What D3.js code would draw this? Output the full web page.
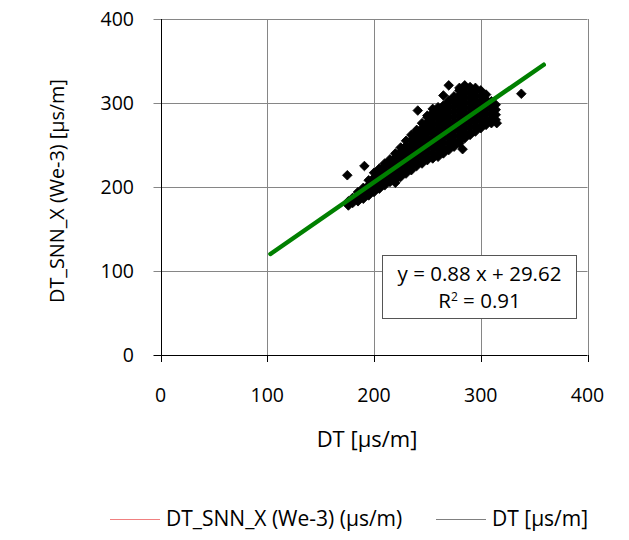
<!DOCTYPE html>
<html>
<head>
<meta charset="utf-8">
<script src="https://cdn.jsdelivr.net/npm/d3@7"></script>
<style>
  html, body { margin: 0; padding: 0; background: #fff; }
  svg { display: block; font-family: "Open Sans", "Liberation Sans", sans-serif; }
</style>
</head>
<body>
<svg id="chart" width="629" height="540"></svg>
<script>
// ---------- data ----------
const xTicks = [0, 100, 200, 300, 400];
const yTicks = [0, 100, 200, 300, 400];
const xTitle = "DT [µs/m]";
const yTitle = "DT_SNN_X (We-3) [µs/m]";
const legendLabels = ["DT_SNN_X (We-3) (µs/m)", "DT [µs/m]"];
const trendSlope = 0.88;
const trendIntercept = 29.62;
const trendRSquared = 0.91;
const trendXRange = [103, 359];

// dense cloud: [DT, list of DT_SNN_X values]
const cloudColumns = [
  [176, [178, 183]],
  [180, [181, 187]],
  [185, [183, 189, 194]],
  [190, [186, 192, 199]],
  [195, [190, 196, 202, 208]],
  [200, [194, 199, 205, 211, 217]],
  [205, [198, 204, 210, 216, 222]],
  [210, [202, 207, 213, 219, 225, 228]],
  [215, [206, 212, 218, 224, 230, 233]],
  [220, [208, 211, 217, 223, 229, 235, 240]],
  [225, [212, 218, 224, 230, 236, 242, 247]],
  [230, [216, 219, 225, 231, 237, 243, 249, 255]],
  [235, [220, 226, 232, 238, 244, 250, 256, 262]],
  [240, [225, 229, 235, 241, 247, 253, 259, 265, 268]],
  [245, [228, 234, 240, 246, 252, 258, 264, 270, 276]],
  [250, [232, 235, 241, 247, 253, 259, 265, 271, 277, 283, 285]],
  [255, [234, 240, 246, 252, 258, 264, 270, 276, 282, 288, 293]],
  [260, [236, 239, 245, 251, 257, 263, 269, 275, 281, 287, 293, 295]],
  [265, [240, 246, 252, 258, 264, 270, 276, 282, 288, 294, 297]],
  [270, [244, 247, 253, 259, 265, 271, 277, 283, 289, 295, 301, 303]],
  [275, [248, 254, 260, 266, 272, 278, 284, 290, 296, 302, 308]],
  [280, [252, 255, 261, 267, 273, 279, 285, 291, 297, 303, 309, 315, 318]],
  [285, [258, 264, 270, 276, 282, 288, 294, 300, 306, 312, 318, 321]],
  [290, [262, 265, 271, 277, 283, 289, 295, 301, 307, 313, 319]],
  [295, [266, 272, 278, 284, 290, 296, 302, 308, 314, 318]],
  [300, [270, 273, 279, 285, 291, 297, 303, 309, 315]],
  [305, [274, 280, 286, 292, 298, 304, 310]],
  [310, [276, 281, 287, 293, 299, 302]],
  [314, [280, 286, 292, 298]]
];
// isolated points
const outlierDT  = [175, 191, 241, 265, 270, 338, 283, 220, 315];
const outlierSNN = [214, 225, 291, 309, 321, 311, 245, 205, 276];

// ---------- build ----------
const points = [];
cloudColumns.forEach(([dx, ys]) => ys.forEach(v => points.push([dx, v])));
outlierDT.forEach((d, i) => points.push([d, outlierSNN[i]]));

const svg = d3.select("#chart");
const x = d3.scaleLinear().domain([0, 400]).range([160.5, 587.5]);
const y = d3.scaleLinear().domain([0, 400]).range([355, 19]);
const crisp = v => Math.round(v) + 0.5;
const gridColor = "#868686";

// horizontal gridlines (with outward tick stubs)
svg.append("g").selectAll("line").data(yTicks.filter(t => t > 0)).join("line")
  .attr("x1", x(0) - 7).attr("x2", x(400))
  .attr("y1", d => crisp(y(d))).attr("y2", d => crisp(y(d)))
  .attr("stroke", gridColor).attr("stroke-width", 1);
// vertical gridlines
svg.append("g").selectAll("line").data(xTicks.filter(t => t > 0)).join("line")
  .attr("x1", d => crisp(x(d))).attr("x2", d => crisp(x(d)))
  .attr("y1", y(0)).attr("y2", y(400))
  .attr("stroke", gridColor).attr("stroke-width", 1);

// axis lines
svg.append("line").attr("x1", crisp(x(0))).attr("x2", crisp(x(0)))
  .attr("y1", y(400)).attr("y2", y(0)).attr("stroke", "#000");
svg.append("line").attr("x1", x(0) - 7).attr("x2", x(400))
  .attr("y1", crisp(y(0))).attr("y2", crisp(y(0))).attr("stroke", "#000");
// x tick marks
svg.append("g").selectAll("line").data(xTicks).join("line")
  .attr("x1", d => crisp(x(d))).attr("x2", d => crisp(x(d)))
  .attr("y1", y(0)).attr("y2", y(0) + 7).attr("stroke", "#000");

// tick labels
svg.append("g").selectAll("text").data(yTicks).join("text")
  .attr("x", 134).attr("y", d => y(d)).attr("dy", "0.35em")
  .attr("text-anchor", "end").attr("font-size", 19.5).attr("fill", "#000")
  .text(d => d);
svg.append("g").selectAll("text").data(xTicks).join("text")
  .attr("x", d => x(d)).attr("y", 402)
  .attr("text-anchor", "middle").attr("font-size", 19.5).attr("fill", "#000")
  .text(d => d);

// axis titles
svg.append("text").attr("x", 367).attr("y", 447)
  .attr("text-anchor", "middle").attr("font-size", 22).text(xTitle);
svg.append("text").attr("transform", `translate(64,191) rotate(-90)`)
  .attr("text-anchor", "middle").attr("font-size", 19.8).text(yTitle);

// scatter points (diamonds)
const diamond = d3.symbol().type(d3.symbolSquare).size(46);
svg.append("g").selectAll("path").data(points).join("path")
  .attr("d", diamond)
  .attr("transform", d => `translate(${x(d[0])},${y(d[1])}) rotate(45)`)
  .attr("fill", "#000").attr("stroke", "#000").attr("stroke-width", 0.8);

// trend line
svg.append("line")
  .attr("x1", x(trendXRange[0])).attr("y1", y(trendSlope * trendXRange[0] + trendIntercept))
  .attr("x2", x(trendXRange[1])).attr("y2", y(trendSlope * trendXRange[1] + trendIntercept))
  .attr("stroke", "#008000").attr("stroke-width", 4.5).attr("stroke-linecap", "round");

// equation box
const box = svg.append("g");
box.append("rect").attr("x", 382.5).attr("y", 255.5).attr("width", 194).attr("height", 63)
  .attr("fill", "#fff").attr("stroke", "#555");
box.append("text").attr("x", 479.5).attr("y", 281).attr("text-anchor", "middle")
  .attr("font-size", 20.5).text(`y = ${trendSlope.toFixed(2)} x + ${trendIntercept.toFixed(2)}`);
const r2 = box.append("text").attr("x", 479.5).attr("y", 308).attr("text-anchor", "middle")
  .attr("font-size", 20.5);
r2.append("tspan").text("R");
r2.append("tspan").attr("dy", -7).attr("font-size", 12).text("2");
r2.append("tspan").attr("dy", 7).text(` = ${trendRSquared.toFixed(2)}`);

// legend
const legendColors = ["#f08080", "#808080"];
const legendX = [110, 436];
legendLabels.forEach((lab, i) => {
  svg.append("line").attr("x1", legendX[i]).attr("x2", legendX[i] + 50)
    .attr("y1", 519.5).attr("y2", 519.5).attr("stroke", legendColors[i]).attr("stroke-width", 1);
  svg.append("text").attr("x", legendX[i] + 56).attr("y", 526)
    .attr("font-size", 21).text(lab);
});
</script>
</body>
</html>
